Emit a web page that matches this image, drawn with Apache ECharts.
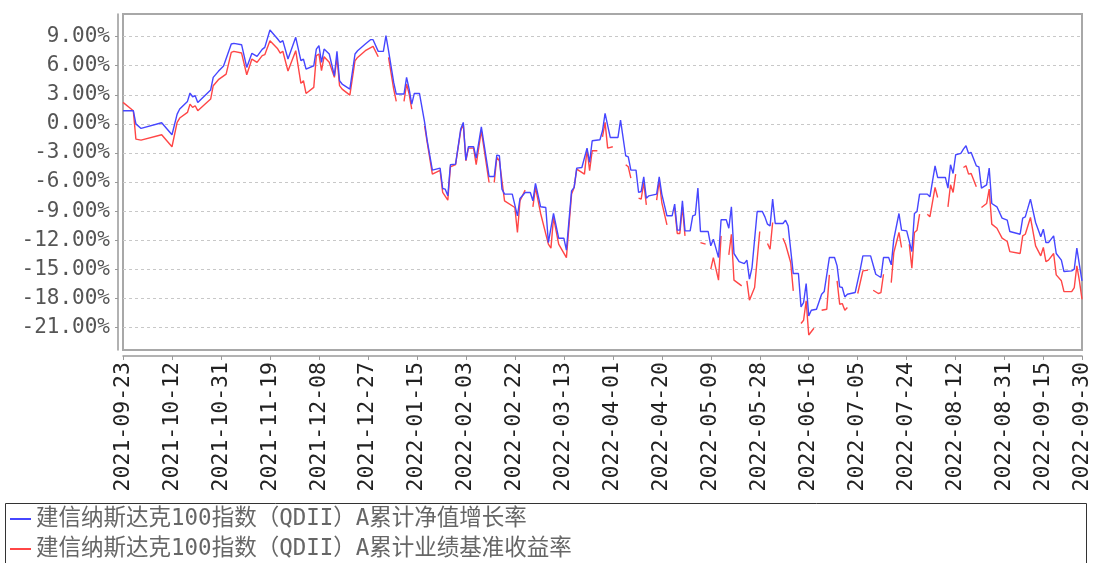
<!DOCTYPE html>
<html>
<head>
<meta charset="utf-8">
<script src="https://cdn.jsdelivr.net/npm/echarts@6/dist/echarts.min.js"></script>
<style>
  html, body { margin: 0; padding: 0; background: #fff; }
  #chart { width: 1094px; height: 563px; }
</style>
</head>
<body>
<div id="chart"></div>
<script>
const seriesNames = [
  '建信纳斯达克100指数（QDII）A累计净值增长率',
  '建信纳斯达克100指数（QDII）A累计业绩基准收益率'
];

// days counted from 2021-09-23
const navDays = [
  0, 4, 5, 7, 15, 19, 21, 22, 25, 26, 27, 28, 29, 34, 35, 37, 39, 42, 43, 46,
  48, 50, 52, 54, 55, 57, 60, 61, 62, 64, 67, 69, 70, 71, 74, 75, 76, 77, 78, 80,
  82, 83, 84, 85, 88, 90, 91, 94, 96, 97, 99, 101, 102, 103, 105, 106, 109, 110, 111, 112,
  113, 115, 117, 118, 120, 123, 124, 125, 126, 127, 129, 131, 132, 133, 134, 136, 137, 139, 142, 144,
  145, 146, 147, 148, 151, 153, 154, 156, 158, 159, 160, 162, 164, 165, 167, 169, 171, 172, 174, 175,
  176, 178, 180, 181, 182, 185, 186, 187, 189, 192, 193, 195, 196, 197, 199, 200, 201, 202, 203, 204,
  207, 208, 209, 211, 213, 214, 215, 216, 217, 218, 220, 221, 222, 223, 224, 227, 228, 229, 231, 232,
  234, 235, 236, 237, 239, 241, 242, 243, 244, 246, 248, 249, 250, 251, 252, 253, 256, 257, 258, 260,
  262, 263, 264, 265, 266, 267, 269, 271, 272, 274, 276, 277, 278, 279, 280, 281, 284, 286, 287, 290,
  292, 294, 295, 297, 298, 299, 301, 302, 304, 306, 307, 308, 309, 312, 313, 315, 316, 319, 320, 321,
  322, 323, 325, 326, 327, 328, 329, 331, 332, 333, 335, 336, 337, 339, 341, 343, 344, 348, 349, 350,
  352, 354, 356, 357, 358, 359, 361, 362, 364, 365, 368, 369, 370, 371, 372
];
const navValues = [
  1.36, 1.36, 0.0, -0.47, 0.12, -1.12, 1.0, 1.53, 2.32, 3.18, 2.8, 2.9, 2.2, 3.5, 4.8, 5.42, 5.97, 8.24, 8.31, 8.17,
  5.83, 7.28, 6.97, 7.69, 7.9, 9.69, 8.76, 8.41, 8.59, 6.69, 8.93, 6.52, 6.69, 5.66, 6.0, 7.72, 8.07, 6.35, 7.72, 7.21,
  4.97, 7.48, 4.45, 4.11, 3.59, 7.21, 7.55, 8.24, 8.69, 8.69, 7.48, 7.48, 9.1, 7.55, 4.28, 3.08, 3.08, 4.8, 3.59, 2.04,
  3.14, 3.14, 0.15, -1.74, -4.77, -4.57, -6.67, -6.74, -7.43, -4.22, -4.15, -0.54, 0.15, -3.74, -2.36, -2.36, -3.53, -0.3, -5.43, -5.43,
  -3.22, -3.29, -6.74, -7.25, -7.25, -9.49, -7.7, -7.08, -7.08, -7.94, -6.15, -8.56, -8.63, -12.25, -9.25, -11.8, -11.8, -13.04, -6.91, -6.56,
  -4.57, -4.5, -2.5, -3.98, -1.74, -1.64, -0.71, 1.08, -1.4, -1.4, 0.39, -3.29, -3.4, -4.77, -4.77, -7.08, -6.98, -5.46, -7.67, -7.43,
  -7.25, -5.46, -7.25, -9.49, -9.49, -8.29, -10.97, -10.97, -7.94, -11.04, -11.04, -9.49, -9.39, -6.63, -11.11, -11.11, -12.59, -11.9, -13.8, -9.9,
  -9.9, -10.77, -8.56, -13.38, -14.21, -14.42, -14.07, -16.03, -14.83, -9.04, -9.04, -9.6, -10.35, -10.53, -7.77, -10.28, -10.28, -9.94, -10.53, -15.45,
  -15.45, -18.89, -18.44, -16.48, -19.82, -19.24, -19.13, -17.58, -17.31, -13.8, -13.8, -14.66, -16.82, -16.89, -17.86, -17.58, -17.41, -15.0, -13.62, -13.62,
  -15.52, -15.86, -13.8, -13.8, -14.55, -11.9, -9.25, -10.97, -11.04, -13.18, -9.25, -9.04, -7.25, -7.25, -7.53, -4.33, -5.53, -5.53, -6.63, -4.22,
  -5.12, -3.19, -3.05, -2.6, -2.26, -3.05, -2.95, -4.33, -4.43, -6.63, -6.29, -4.57, -8.22, -8.56, -9.73, -9.94, -11.11, -11.39, -9.73, -9.6,
  -7.77, -10.18, -11.66, -10.87, -12.25, -12.25, -11.56, -13.38, -14.07, -15.24, -15.17, -15.0, -12.83, -14.55, -16.2
];

// null = no benchmark value, the line breaks there
const benchDays = [
  0, 4, 5, 7, 15, 19, 21, 22, 25, 26, 27, 28, 29, 34, 35, 37, 40, 42, 43, 46,
  48, 50, 52, 54, 55, 57, 60, 61, 62, 64, 67, 69, 70, 71, 74, 75, 76, 77, 78, 80,
  82, 83, 84, 85, 88, 90, 91, 94, 97, 99, 101, 103, 105, 106, 107, 109, 110, 111, 112, 114,
  117, 118, 120, 123, 124, 126, 127, 129, 131, 132, 133, 134, 136, 137, 139, 142, 143, 144, 145, 146,
  148, 152, 153, 154, 156, 157, 159, 160, 162, 165, 166, 167, 169, 172, 174, 175, 176, 179, 180, 181,
  182, 184, 185, 186, 187, 188, 190, 192, 195, 196, 197, 198, 200, 201, 202, 203, 205, 207, 208, 209,
  211, 212, 214, 215, 216, 217, 218, 220, 224, 226, 227, 228, 229, 231, 232, 233, 235, 236, 237, 240,
  241, 242, 243, 245, 247, 248, 250, 251, 252, 254, 256, 257, 259, 260, 261, 263, 264, 265, 266, 268,
  270, 271, 273, 274, 275, 277, 278, 279, 280, 281, 283, 285, 287, 289, 290, 291, 293, 294, 295, 296,
  298, 299, 301, 302, 303, 305, 306, 307, 308, 309, 310, 312, 313, 315, 316, 318, 320, 321, 322, 323,
  324, 326, 327, 328, 329, 331, 332, 333, 335, 336, 337, 339, 341, 343, 344, 348, 349, 350, 352, 354,
  356, 357, 358, 359, 361, 362, 364, 365, 368, 369, 370, 371, 372
];
const benchValues = [
  2.22, 1.36, -1.57, -1.68, -1.12, -2.36, 0.15, 0.6, 1.18, 2.04, 1.7, 1.87, 1.36, 2.56, 3.94, 4.56, 5.14, 7.38, 7.48, 7.31,
  5.07, 6.69, 6.35, 7.04, 7.14, 8.59, 7.75, 7.3, 7.5, 5.45, 7.55, 4.18, 4.45, 3.14, 3.77, 7.04, 7.21, 5.49, 6.93, 6.35,
  4.8, 6.86, 3.94, 3.59, 2.97, 6.52, 6.86, 7.55, 8.0, 6.93, null, 6.86, 3.59, 2.32, null, 2.32, 4.11, 3.08, 1.53, null,
  -0.2, -1.9, -5.19, -4.8, -7.08, -7.87, -4.43, -4.2, -0.71, -0.02, -3.81, -2.5, -2.5, -4.22, -0.71, -6.05, null, -6.05, -3.46, -3.81,
  -7.94, -8.63, -11.21, -7.94, -6.84, null, -8.56, -6.56, -9.25, -12.42, -12.83, -9.66, -12.42, -13.8, -7.25, -6.56, -4.67, -5.19, -2.6, -4.84,
  -2.77, -2.77, null, -1.33, 0.15, -2.5, -2.36, null, -4.22, -4.43, -5.6, null, -7.67, -7.77, -6.05, -8.36, null, -7.87, -5.87, -8.12,
  -10.42, null, -8.7, -11.31, -11.31, -8.56, -11.56, null, -12.25, -12.42, null, -15.0, -13.8, -16.13, -11.56, null, -13.52, -11.39, -16.13, -16.72,
  null, -16.2, -18.2, -16.89, -11.11, null, -12.35, -12.93, -10.18, null, -11.8, -12.42, -14.31, -17.24, null, -20.61, -20.27, -18.27, -21.79, -21.1,
  null, -19.24, -19.13, -15.59, null, -16.2, -18.62, -18.55, -19.24, -18.96, null, -17.51, -15.17, -15.1, null, -17.17, -17.51, -17.41, -15.52, null,
  -16.38, -13.28, -11.21, -12.76, null, -12.42, -14.9, -11.21, -10.97, -9.32, null, -9.32, -9.6, -6.56, -7.6, null, -8.56, -6.29, -7.08, -5.19,
  null, -4.5, -4.33, -5.19, -5.12, -6.49, null, -8.63, -8.22, -6.74, -10.35, -10.77, -11.8, -12.14, -13.18, -13.38, -11.56, -11.39, -9.66, -12.59,
  -13.62, -12.76, -14.21, -14.07, -13.38, -15.59, -16.2, -17.31, -17.31, -16.89, -14.66, -16.2, -18.1
];

const xLabels = [
  '2021-09-23', '2021-10-12', '2021-10-31', '2021-11-19', '2021-12-08', '2021-12-27', '2022-01-15',
  '2022-02-03', '2022-02-22', '2022-03-13', '2022-04-01', '2022-04-20', '2022-05-09', '2022-05-28',
  '2022-06-16', '2022-07-05', '2022-07-24', '2022-08-12', '2022-08-31', '2022-09-15', '2022-09-30'
];
const yTicks = [-21, -18, -15, -12, -9, -6, -3, 0, 3, 6, 9];
const yMin = -23.34;
const yMax = 11.34;
const lastDay = 372;

const font = '"DejaVu Sans Mono", "Noto Sans CJK SC", monospace';
const lineColors = ['#4646ff', '#ff4646'];

const dayToTime = d => new Date(2021, 8, 23 + d).getTime();
const labelToTime = s => {
  const p = s.split('-').map(Number);
  return new Date(p[0], p[1] - 1, p[2]).getTime();
};
const pad = n => (n < 10 ? '0' + n : '' + n);
const dateText = t => {
  const d = new Date(t);
  return `${d.getFullYear()}-${pad(d.getMonth() + 1)}-${pad(d.getDate())}`;
};
const toPoints = (days, values) =>
  days.map((d, i) => [dayToTime(d), values[i] == null ? '-' : values[i]]);

const xTickTimes = xLabels.map(labelToTime);

// one legend per row, stacked inside the framed box
const legendRow = (name, top) => ({
  data: [name],
  left: 10,
  top: top,
  padding: 0,
  itemWidth: 21,
  itemHeight: 2,
  icon: 'rect',
  textStyle: {
    fontFamily: font,
    fontSize: 22.5,
    lineHeight: 30,
    color: '#666'
  }
});

const chart = echarts.init(document.getElementById('chart'));

chart.setOption({
  animation: false,
  grid: {
    left: 123,
    right: 12,
    top: 14,
    bottom: 213,
    show: true,
    borderColor: '#a8a8a8',
    borderWidth: 2
  },
  legend: [legendRow(seriesNames[0], 504), legendRow(seriesNames[1], 534)],
  graphic: [
    {
      type: 'rect',
      left: 3,
      top: 501,
      shape: { width: 1081, height: 80 },
      style: { fill: 'none', stroke: '#333', lineWidth: 1 }
    }
  ],
  xAxis: {
    type: 'value',
    min: dayToTime(0),
    max: dayToTime(lastDay),
    offset: 6,
    axisLine: {
      onZero: false,
      lineStyle: { color: '#999', width: 1.5 }
    },
    axisTick: {
      show: true,
      length: 4,
      customValues: xTickTimes,
      lineStyle: { color: '#999' }
    },
    axisLabel: {
      customValues: xTickTimes,
      rotate: 90,
      margin: 6,
      formatter: dateText,
      fontFamily: font,
      fontSize: 21.5,
      color: '#222'
    },
    splitLine: { show: false }
  },
  yAxis: {
    type: 'value',
    min: yMin,
    max: yMax,
    offset: 5,
    axisLine: {
      show: true,
      onZero: false,
      lineStyle: { color: '#999', width: 1.5 }
    },
    axisTick: {
      show: true,
      length: 3,
      customValues: yTicks,
      lineStyle: { color: '#999' }
    },
    axisLabel: {
      customValues: yTicks,
      margin: 8,
      formatter: v => v.toFixed(2) + '%',
      fontFamily: font,
      fontSize: 21,
      color: '#555'
    },
    splitLine: {
      show: true,
      lineStyle: { color: '#c8c8c8', type: [3, 3], width: 1 }
    }
  },
  series: [
    {
      name: seriesNames[0],
      type: 'line',
      data: toPoints(navDays, navValues),
      symbol: 'none',
      showSymbol: false,
      connectNulls: false,
      z: 3,
      itemStyle: { color: lineColors[0] },
      lineStyle: { color: lineColors[0], width: 1.4 }
    },
    {
      name: seriesNames[1],
      type: 'line',
      data: toPoints(benchDays, benchValues),
      symbol: 'none',
      showSymbol: false,
      connectNulls: false,
      z: 2,
      itemStyle: { color: lineColors[1] },
      lineStyle: { color: lineColors[1], width: 1.4 }
    }
  ]
});
</script>
</body>
</html>
